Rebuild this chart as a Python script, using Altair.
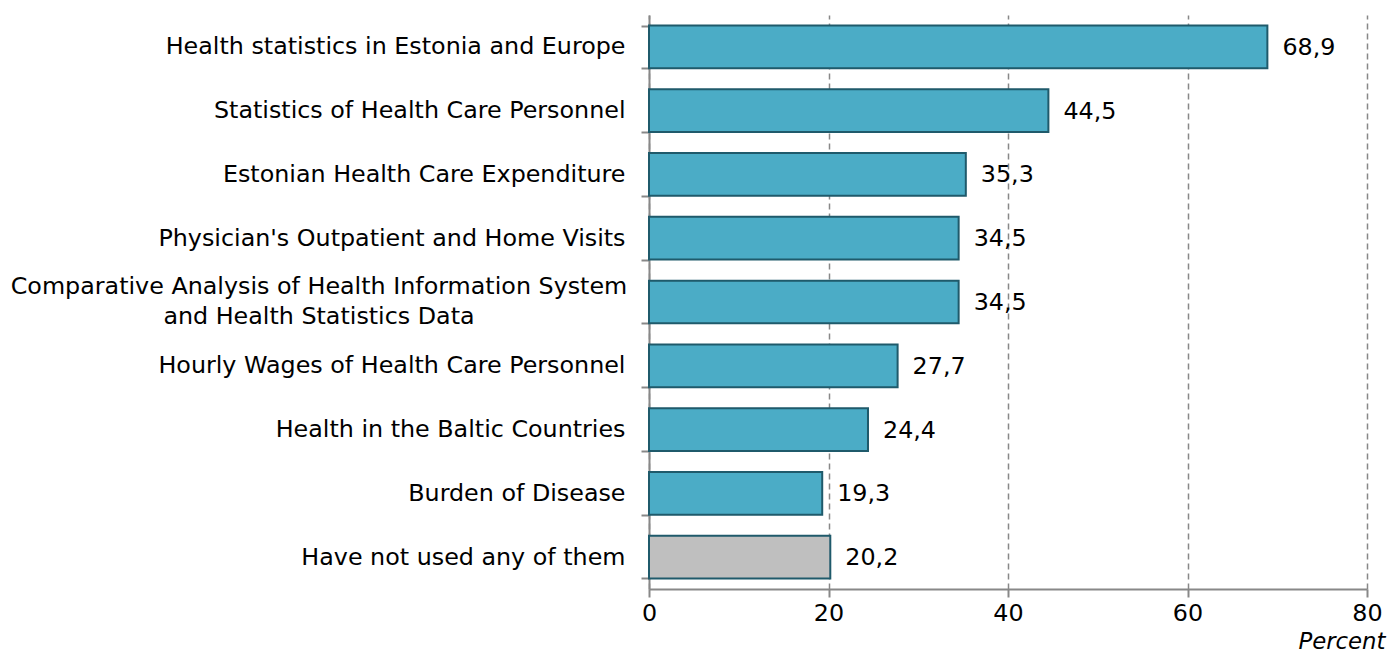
import altair as alt
import pandas as pd

categories = [
    "Health statistics in Estonia and Europe",
    "Statistics of Health Care Personnel",
    "Estonian Health Care Expenditure",
    "Physician's Outpatient and Home Visits",
    "Comparative Analysis of Health Information System and Health Statistics Data",
    "Hourly Wages of Health Care Personnel",
    "Health in the Baltic Countries",
    "Burden of Disease",
    "Have not used any of them",
]
values = [68.9, 44.5, 35.3, 34.5, 34.5, 27.7, 24.4, 19.3, 20.2]
groups = ["used", "used", "used", "used", "used", "used", "used", "used", "none"]
long_label = categories[4]
long_lines = ["Comparative Analysis of Health Information System",
              "and Health Statistics Data"]

df = pd.DataFrame({"cat": categories, "val": values, "grp": groups})
df["lbl"] = [f"{v:.1f}".replace(".", ",") for v in values]

FONT = "DejaVu Sans"
FS = 23.8

y_enc = alt.Y(
    "cat:N",
    sort=categories,
    title=None,
    scale=alt.Scale(paddingInner=0.33, paddingOuter=0.165),
    axis=alt.Axis(
        tickBand="extent",
        domainColor="#888888",
        domainWidth=2,
        tickColor="#888888",
        tickWidth=2,
        tickSize=8,
        labelFont=FONT,
        labelFontSize=FS,
        labelColor="#000000",
        labelPadding=16,
        labelLimit=700,
        labelExpr=f"datum.value == '{long_label}' ? '' : datum.value",
    ),
)

x_enc = alt.X(
    "val:Q",
    scale=alt.Scale(domain=[0, 80]),
    title="Percent",
    axis=alt.Axis(
        values=[0, 20, 40, 60, 80],
        domainColor="#888888",
        domainWidth=2,
        tickColor="#888888",
        tickWidth=2,
        tickSize=8,
        grid=True,
        gridColor="#888888",
        gridDash=[6, 4],
        gridWidth=1.5,
        labelFont=FONT,
        labelFontSize=FS,
        labelColor="#000000",
        labelPadding=4,
        labelFlush=False,
        titleFont=FONT,
        titleFontSize=FS - 1,
        titleFontStyle="italic",
        titleFontWeight="normal",
        titleColor="#000000",
        titleAlign="right",
        titleAnchor="end",
        titleX=736,
        titleY=59,
        titleBaseline="alphabetic",
    ),
)

bars = alt.Chart(df).mark_bar(stroke="#1f5a6b", strokeWidth=2).encode(
    y=y_enc,
    x=x_enc,
    color=alt.Color(
        "grp:N",
        scale=alt.Scale(domain=["used", "none"], range=["#4BACC6", "#BFBFBF"]),
        legend=None,
    ),
)

texts = alt.Chart(df).mark_text(
    align="left", baseline="middle", dx=15, dy=1, font=FONT, fontSize=FS, color="#000000"
).encode(y=alt.Y("cat:N", sort=categories), x="val:Q", text="lbl:N")

long_df = pd.DataFrame({"cat": [long_label], "txt": [long_lines]})
long_text = alt.Chart(long_df).mark_text(
    align="center", baseline="middle", font=FONT, fontSize=FS, color="#000000",
    lineHeight=30, dy=-15,
).encode(y=alt.Y("cat:N", sort=categories), x=alt.value(-330), text="txt")

chart = (
    alt.layer(bars, texts, long_text)
    .properties(width=718, height=574, padding={"left": 641, "top": 7, "right": 25, "bottom": 65})
    .configure(autosize=alt.AutoSizeParams(type="none"))
    .configure_view(stroke=None)
)

chart.save("out.html", embed_options={"renderer": "svg", "actions": False})
